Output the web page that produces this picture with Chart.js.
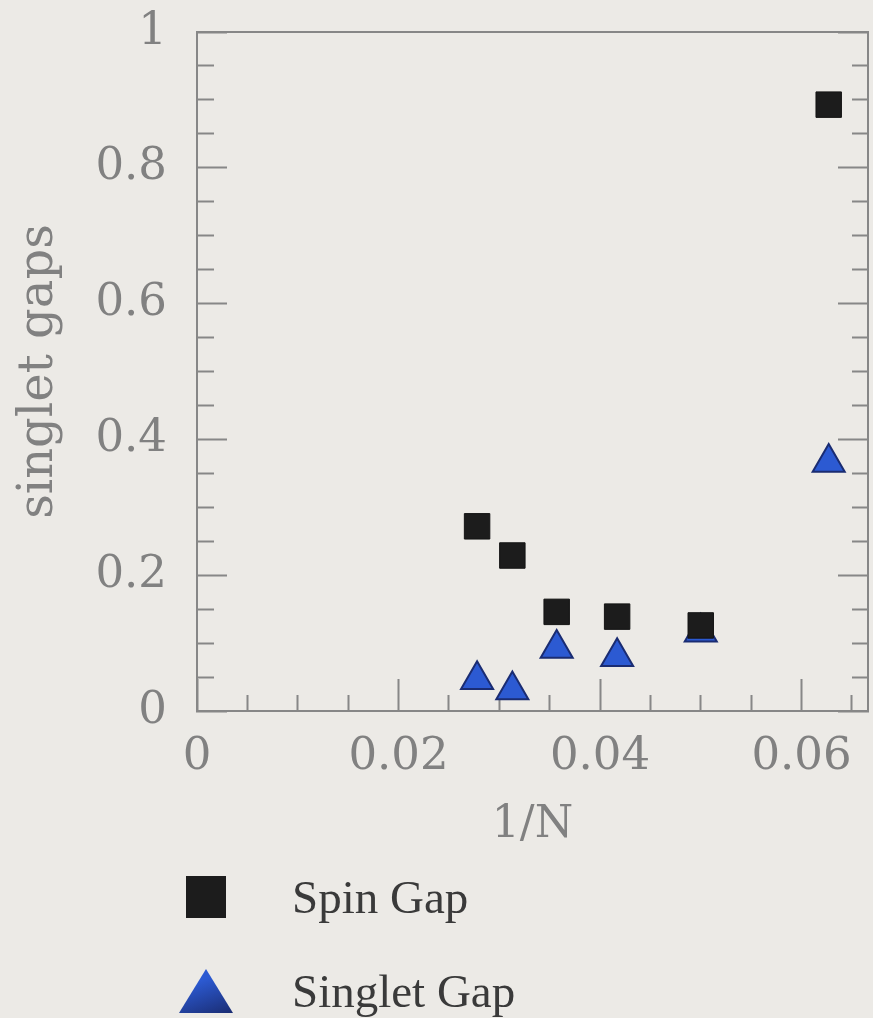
<!DOCTYPE html>
<html>
<head>
<meta charset="utf-8">
<title>Spin and singlet gaps vs 1/N</title>
<script src="https://cdn.jsdelivr.net/npm/chart.js@4.4.1/dist/chart.umd.min.js"></script>
<style>
  html, body { margin: 0; padding: 0; background: #eceae6; }
  #wrap { position: relative; width: 873px; height: 1018px; }
  #chart { position: absolute; left: 0; top: 0; }
  #legend { position: absolute; left: 178px; top: 867px; }
  .row { position: absolute; left: 0; height: 60px; width: 400px; display: flex; align-items: center; }
  .mark { width: 56px; height: 48px; display: flex; align-items: center; justify-content: center; margin-right: 58px; }
  .mark .rect { width: 40px; height: 42px; }
  .mark .triangle { width: 54px; height: 44px; clip-path: polygon(50% 0, 100% 100%, 0 100%); }
  .label { font-family: "Liberation Serif", serif; font-size: 47px; line-height: 60px; color: #3a3a3a; white-space: nowrap; }
</style>
</head>
<body>
<div id="wrap">
  <canvas id="chart" width="873" height="1018"></canvas>
  <div id="legend"></div>
</div>
<script>
// 1/N for N = 36, 32, 28, 24, 20, 16
const invN = [0.0278, 0.0313, 0.0357, 0.0417, 0.05, 0.0627];
const spinGap = [0.272, 0.229, 0.146, 0.139, 0.126, 0.893];
const singletGap = [0.046, 0.031, 0.092, 0.080, 0.116, 0.366];

const xMajor = [0, 0.02, 0.04, 0.06];
const yMajor = [0, 0.2, 0.4, 0.6, 0.8, 1];

const axisGray = '#878787';
const textGray = '#818181';

function findMajor(value, majors) {
  return majors.find(m => Math.abs(m - value) < 1e-9);
}

function majorLabel(value, majors) {
  const m = findMajor(value, majors);
  return m === undefined ? '' : String(m);
}

// minor ticks are drawn as a short dash of the full-length tick line
function tickDash(majors, gapFirst) {
  return function (ctx) {
    if (!ctx.tick || findMajor(ctx.tick.value, majors) !== undefined) return [];
    return gapFirst ? [0, 13, 17, 200] : [17, 200];
  };
}

// fixed box size, and no extra room for labels hanging past the ends
function fixBox(width, height) {
  return function (s) {
    if (width !== null) s.width = width;
    if (height !== null) s.height = height;
    s.paddingLeft = 0;
    s.paddingRight = 0;
    s.paddingTop = 0;
    s.paddingBottom = 0;
  };
}

// legend rows built as html from the chart's own legend items
const htmlLegend = {
  id: 'htmlLegend',
  afterUpdate(chart) {
    const box = document.getElementById('legend');
    box.innerHTML = '';
    const items = chart.options.plugins.legend.labels.generateLabels(chart);
    items.forEach((item, i) => {
      const row = document.createElement('div');
      row.className = 'row';
      row.style.top = (i * 94) + 'px';

      const mark = document.createElement('div');
      mark.className = 'mark';
      const shape = document.createElement('div');
      shape.className = item.pointStyle;
      if (item.pointStyle === 'triangle') {
        shape.style.background = 'linear-gradient(160deg, ' + item.fillStyle + ' 30%, ' + item.strokeStyle + ' 100%)';
      } else {
        shape.style.background = item.fillStyle;
      }
      mark.appendChild(shape);

      const text = document.createElement('span');
      text.className = 'label';
      text.textContent = item.text;

      row.appendChild(mark);
      row.appendChild(text);
      box.appendChild(row);
    });
  }
};

const ctx = document.getElementById('chart').getContext('2d');

new Chart(ctx, {
  type: 'scatter',
  data: {
    datasets: [
      {
        label: 'Spin Gap',
        data: invN.map((x, i) => ({ x: x, y: spinGap[i] })),
        pointStyle: 'rect',
        pointRadius: 18,
        backgroundColor: '#1c1c1c',
        borderColor: '#141414',
        borderWidth: 1
      },
      {
        label: 'Singlet Gap',
        data: invN.map((x, i) => ({ x: x, y: singletGap[i] })),
        pointStyle: 'triangle',
        pointRadius: 18.5,
        backgroundColor: '#2c5ad2',
        borderColor: '#1a2c72',
        borderWidth: 2
      }
    ]
  },
  options: {
    responsive: false,
    animation: false,
    events: [],
    layout: { autoPadding: false, padding: { left: 0, top: 32, right: 5, bottom: 160 } },
    plugins: {
      legend: { display: false },
      tooltip: { enabled: false }
    },
    scales: {
      x: {
        type: 'linear',
        position: 'bottom',
        min: 0,
        max: 0.0666,
        ticks: {
          stepSize: 0.005,
          includeBounds: false,
          autoSkip: false,
          maxRotation: 0,
          minRotation: 0,
          padding: 51,
          color: textGray,
          font: { family: 'DejaVu Serif', size: 45 },
          callback: v => majorLabel(v, xMajor)
        },
        grid: {
          drawOnChartArea: false,
          drawTicks: true,
          tickLength: -32,
          tickColor: axisGray,
          tickWidth: 2,
          tickBorderDash: tickDash(xMajor, false)
        },
        border: { display: true, color: axisGray, width: 2 },
        title: {
          display: true,
          text: '1/N',
          color: textGray,
          font: { family: 'DejaVu Serif', size: 44 },
          padding: { top: 0, bottom: 6 }
        },
        afterFit: fixBox(null, 147)
      },
      xTop: {
        type: 'linear',
        position: 'top',
        min: 0,
        max: 0.0666,
        ticks: { display: false },
        grid: { display: false },
        border: { display: true, color: axisGray, width: 2 },
        afterFit: fixBox(null, 0)
      },
      y: {
        type: 'linear',
        position: 'left',
        min: 0,
        max: 1,
        ticks: {
          stepSize: 0.05,
          includeBounds: false,
          autoSkip: false,
          padding: 60,
          color: textGray,
          font: { family: 'DejaVu Serif', size: 45 },
          callback: v => majorLabel(v, yMajor)
        },
        grid: {
          drawOnChartArea: false,
          drawTicks: true,
          tickLength: -30,
          tickColor: axisGray,
          tickWidth: 2,
          tickBorderDash: tickDash(yMajor, true)
        },
        border: { display: true, color: axisGray, width: 2 },
        title: {
          display: true,
          text: 'singlet gaps',
          color: textGray,
          font: { family: 'DejaVu Serif', size: 48 },
          padding: { top: 11, bottom: 0 }
        },
        afterFit: fixBox(197, null)
      },
      yRight: {
        type: 'linear',
        position: 'right',
        min: 0,
        max: 1,
        ticks: { display: false, stepSize: 0.05, includeBounds: false, autoSkip: false },
        grid: {
          drawOnChartArea: false,
          drawTicks: true,
          tickLength: -30,
          tickColor: axisGray,
          tickWidth: 2,
          tickBorderDash: tickDash(yMajor, false)
        },
        border: { display: true, color: axisGray, width: 2 },
        afterFit: fixBox(0, null)
      }
    }
  },
  plugins: [htmlLegend]
});
</script>
</body>
</html>
